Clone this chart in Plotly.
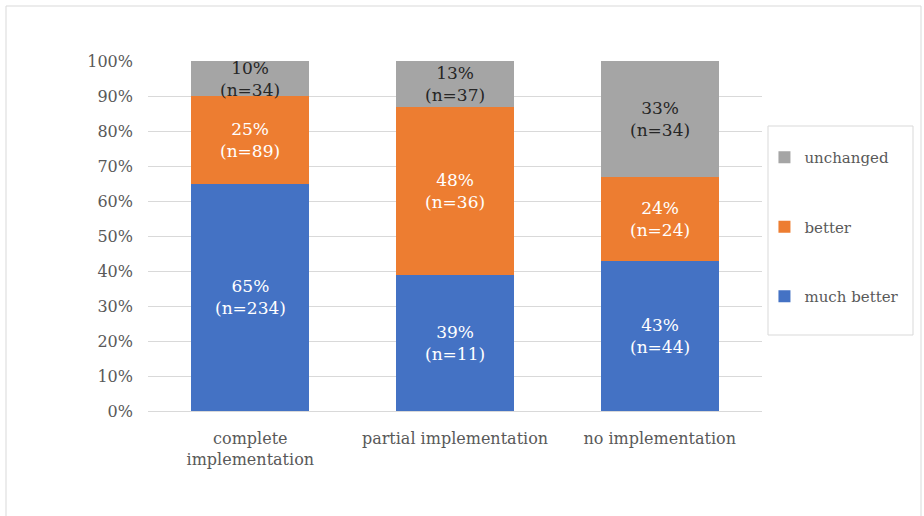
import plotly.graph_objects as go

categories = ["complete implementation", "partial implementation", "no implementation"]
tick_labels = ["complete<br>implementation", "partial implementation", "no implementation"]
much_better = [65, 39, 43]
much_better_n = [234, 11, 44]
better = [25, 48, 24]
better_n = [89, 36, 24]
unchanged = [10, 13, 33]
unchanged_n = [34, 37, 34]

series = [
    ("much better", much_better, much_better_n, "#4472C4", "white", 3),
    ("better", better, better_n, "#ED7D31", "white", 2),
    ("unchanged", unchanged, unchanged_n, "#A5A5A5", "#262626", 1),
]

FONT = "DejaVu Serif"
fig = go.Figure()
annotations = []
base = [0, 0, 0]
for name, vals, ns, color, tcol, rank in series:
    fig.add_trace(go.Bar(
        x=categories, y=vals, name=name, marker=dict(color=color, line=dict(width=0)),
        legendgroup=name, legendrank=rank,
    ))
    for j, (v, n) in enumerate(zip(vals, ns)):
        annotations.append(dict(
            x=categories[j], y=base[j] + v / 2, xref="x", yref="y",
            text=f"{v}%<br>(n={n})", showarrow=False,
            font=dict(family=FONT, size=17, color=tcol),
        ))
        base[j] += v

fig.update_layout(
    barmode="stack",
    bargap=0.425,
    width=924, height=516,
    margin=dict(l=148, r=162, t=61, b=105),
    paper_bgcolor="white", plot_bgcolor="white",
    font=dict(family=FONT, size=16, color="#595959"),
    annotations=annotations,
    legend=dict(
        x=1.004, y=(411 - 141) / 350, xanchor="left", yanchor="top",
        traceorder="grouped", tracegroupgap=47,
        borderwidth=0, bgcolor="rgba(0,0,0,0)",
        font=dict(family=FONT, size=15, color="#595959"),
        itemwidth=30,
    ),
    shapes=[
        dict(type="rect", xref="paper", yref="paper",
             x0=(6 - 148) / 614, x1=(921 - 148) / 614,
             y0=(411 - 530) / 350, y1=(411 - 6) / 350,
             line=dict(color="#D9D9D9", width=1), layer="below"),
        dict(type="rect", xref="paper", yref="paper",
             x0=(768 - 148) / 614, x1=(913 - 148) / 614,
             y0=(411 - 335) / 350, y1=(411 - 126) / 350,
             line=dict(color="#D9D9D9", width=1), layer="below"),
    ],
)
fig.update_yaxes(
    range=[0, 100], tickvals=list(range(0, 101, 10)),
    ticktext=[f"{v}%" for v in range(0, 101, 10)],
    gridcolor="#D9D9D9", gridwidth=1, zeroline=False, showline=False,
    ticks="", ticklabelstandoff=14,
)
fig.update_xaxes(
    tickvals=categories, ticktext=tick_labels,
    showline=True, linecolor="#D9D9D9", linewidth=1, ticks="",
    ticklabelstandoff=13,
)
fig.write_html("out.html")
